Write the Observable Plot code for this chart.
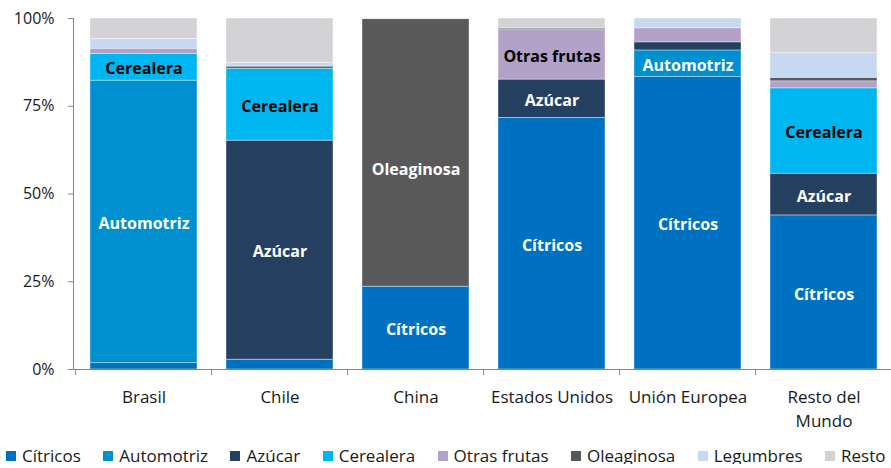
<!DOCTYPE html>
<html><head><meta charset="utf-8">
<script src="https://cdn.jsdelivr.net/npm/d3@7"></script>
<script src="https://cdn.jsdelivr.net/npm/@observablehq/plot@0.6"></script>
<style>
body{margin:0;background:#fff;font-family:"Open Sans",sans-serif;}
#chart svg{display:block;}
#chart svg g[aria-label="y-axis tick label"], #chart svg g[aria-label="x-axis tick label"]{fill:#1a1a1a;}
#legend{display:flex;height:16px;padding-top:2px;padding-left:6px;font-size:17px;line-height:16px;color:#1a1a1a;white-space:nowrap;overflow:visible;}
#legend .item{display:flex;align-items:center;margin-right:22.5px;}
#legend .sw{width:10px;height:10px;margin-right:6px;flex:none;}
</style></head>
<body><div id="chart"></div><div id="legend"></div>
<script>
const categories = ["Brasil", "Chile", "China", "Estados Unidos", "Unión Europea", "Resto del Mundo"];
const series = ["Cítricos", "Automotriz", "Azúcar", "Cerealera", "Otras frutas", "Oleaginosa", "Legumbres", "Resto"];
const colors = ["#0070C0", "#0090D0", "#243F60", "#00B6F0", "#B3A2C7", "#595959", "#C6D9F1", "#D3D3D5"];
// share (%) per category, in the order of `categories`
const citricos    = [1.8, 2.8, 23.6, 71.7, 83.3, 43.9];
const automotriz  = [80.5, 0, 0, 0, 7.6, 0];
const azucar      = [0, 62.4, 0, 10.9, 2.3, 11.9];
const cerealera   = [7.6, 20.5, 0, 0, 0, 24.3];
const otrasFrutas = [1.5, 0, 0, 14.3, 4.0, 2.0];
const oleaginosa  = [0, 0.6, 76.2, 0.3, 0, 1.0];
const legumbres   = [2.8, 1.1, 0, 0, 2.8, 7.0];
const resto       = [5.8, 12.6, 0.2, 2.8, 0, 9.9];
const yTicks = [0, 0.25, 0.5, 0.75, 1];
const labeled = [
  ["Brasil", "Automotriz"], ["Brasil", "Cerealera"],
  ["Chile", "Azúcar"], ["Chile", "Cerealera"],
  ["China", "Cítricos"], ["China", "Oleaginosa"],
  ["Estados Unidos", "Cítricos"], ["Estados Unidos", "Azúcar"], ["Estados Unidos", "Otras frutas"],
  ["Unión Europea", "Cítricos"], ["Unión Europea", "Automotriz"],
  ["Resto del Mundo", "Cítricos"], ["Resto del Mundo", "Azúcar"], ["Resto del Mundo", "Cerealera"]
];
const darkText = ["Cerealera", "Otras frutas"];

const values = [citricos, automotriz, azucar, cerealera, otrasFrutas, oleaginosa, legumbres, resto];
const rows = categories.flatMap((c, i) => series.map((s, j) => ({category: c, series: s, value: values[j][i] / 100})));
const labelRows = [];
categories.forEach((c, i) => {
  let acc = 0;
  series.forEach((s, j) => {
    const v = values[j][i] / 100;
    if (labeled.some(([lc, ls]) => lc === c && ls === s)) labelRows.push({category: c, series: s, mid: acc + v / 2});
    acc += v;
  });
});

const pIn = 0.21, pOut = 0.11;
const step = (895 - 73) / (categories.length - pIn + 2 * pOut);
const isShifted = d => d.category === "China" && d.series === "Oleaginosa";

const plot = Plot.plot({
  width: 891, height: 446,
  marginTop: 18, marginBottom: 77, marginLeft: 73, marginRight: 0,
  style: {fontFamily: "Open Sans", fontSize: "16px", color: "#868686", background: "white"},
  x: {domain: categories, range: [73, 895], paddingInner: pIn, paddingOuter: pOut, label: null},
  y: {domain: [0, 1], ticks: yTicks, tickFormat: d3.format(".0%"), tickSize: 5, tickPadding: 14, line: true, label: null},
  color: {domain: series, range: colors},
  marks: [
    Plot.barY(rows, {x: "category", y: "value", fill: "series", stroke: "white", strokeWidth: 0.7, strokeOpacity: 0.55}),
    Plot.ruleY([0], {stroke: "#868686"}),
    Plot.axisX({tickSize: 6, tickFormat: () => "", dx: -step / 2, label: null}),
    Plot.axisX({tickSize: 0, tickPadding: 16, fontSize: 17, lineHeight: 1.42, label: null,
      tickFormat: d => d === "Resto del Mundo" ? "Resto del\nMundo" : d}),
    Plot.text(labelRows, {filter: d => !darkText.includes(d.series) && !isShifted(d), x: "category", y: "mid", text: "series",
      fill: "white", fontWeight: "bold", fontSize: 16, dy: 2}),
    Plot.text(labelRows, {filter: d => isShifted(d), x: "category", y: "mid", text: "series",
      fill: "white", fontWeight: "bold", fontSize: 16, dy: 17}),
    Plot.text(labelRows, {filter: d => darkText.includes(d.series), x: "category", y: "mid", text: "series",
      fill: "black", fontWeight: "bold", fontSize: 16, dy: 2})
  ]
});
document.getElementById("chart").appendChild(plot);

const legend = d3.select("#legend");
series.forEach((s, j) => {
  const item = legend.append("span").attr("class", "item");
  item.append("span").attr("class", "sw").style("background", colors[j]);
  item.append("span").text(s);
});
</script>
</body></html>
